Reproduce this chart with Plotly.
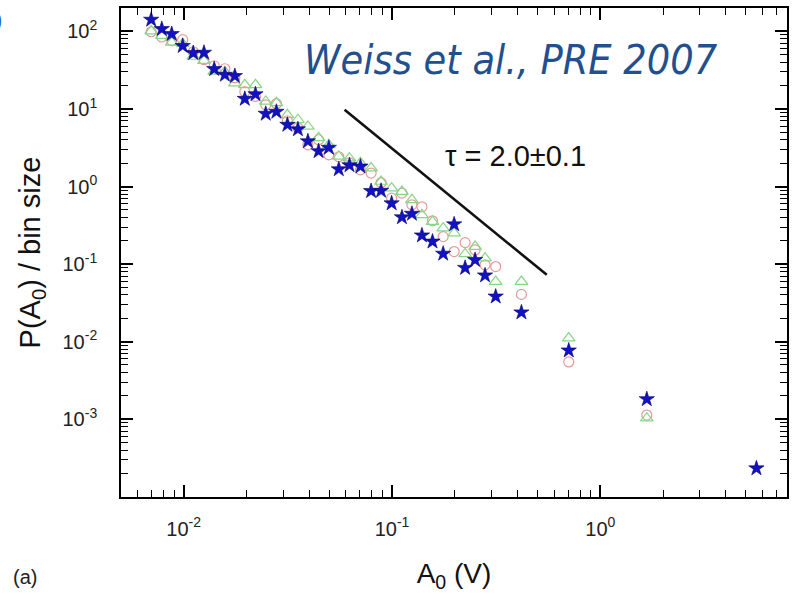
import plotly.graph_objects as go

# ---- data ----
A0 = [0.00698, 0.00785, 0.00876, 0.00989, 0.01111, 0.01251, 0.01401, 0.01576, 0.01760, 0.01965,
      0.02211, 0.02476, 0.02786, 0.03146, 0.03534, 0.03947, 0.04441, 0.04973, 0.05553, 0.06248,
      0.07053, 0.07934, 0.08858, 0.09957, 0.1116, 0.1246, 0.1392, 0.1564, 0.1760, 0.1987,
      0.2243, 0.2504, 0.2796, 0.3145, 0.4179, 0.7053, 1.671, 5.614]

P_star = [141.6, 107.4, 92.5, 64.9, 52.6, 53.1, 32.7, 27.6, 26.6, 13.5,
          15.5, 8.67, 9.20, 6.25, 5.47, 3.83, 2.86, 3.16, 1.67, 1.88,
          1.81, 0.873, 0.881, 0.607, 0.401, 0.445, 0.234, 0.195, 0.136, 0.325,
          0.0893, 0.113, 0.0714, 0.0381, 0.0238, 0.00769, 0.00181, 0.000232]

P_circle = [99, 84.7, 75.9, 78.2, 54.7, 43.2, 36.1, 33.0, 25.3, 16.7,
            14.5, 11.3, 11.7, 7.05, 5.72, 3.45, 4.01, 2.56, 2.42, 2.02,
            1.64, 1.49, 1.12, 0.708, 0.822, 0.581, 0.547, 0.361, 0.226, 0.145,
            0.189, 0.152, 0.0977, 0.0929, 0.0406, 0.00547, 0.00113]

P_triangle = [101, 88.1, 72.1, 69.4, 47.5, 41.9, 30.5, 30.2, 21.6, 20.5,
              20.5, 12.5, 12.0, 8.41, 7.26, 5.95, 4.25, 3.45, 2.44, 2.32,
              2.02, 1.73, 1.16, 0.953, 0.861, 0.673, 0.431, 0.353, 0.290, 0.250,
              0.135, 0.168, 0.119, 0.0594, 0.0594, 0.0111, 0.00103]

fit_x = [0.0592, 0.553]
fit_y = [9.77, 0.0726]

x_major = [0.01, 0.1, 1]
x_labels = ["10<sup>-2</sup>", "10<sup>-1</sup>", "10<sup>0</sup>"]
y_major = [1e-3, 1e-2, 1e-1, 1, 10, 100]
y_labels = ["10<sup>-3</sup>", "10<sup>-2</sup>", "10<sup>-1</sup>",
            "10<sup>0</sup>", "10<sup>1</sup>", "10<sup>2</sup>"]

x_minor = [k * 10.0 ** e for e in range(-3, 1) for k in range(2, 10)]
y_minor = [k * 10.0 ** e for e in range(-5, 3) for k in range(2, 10)]

FONT = "Liberation Sans, Arial, sans-serif"

fig = go.Figure()
fig.add_trace(go.Scatter(x=A0[:len(P_circle)], y=P_circle, mode="markers",
                         marker=dict(symbol="circle-open", size=10, color="#e89a9a",
                                     line=dict(width=1.2, color="#e89a9a"))))
fig.add_trace(go.Scatter(x=A0[:len(P_triangle)], y=P_triangle, mode="markers",
                         marker=dict(symbol="triangle-up-open", size=11, color="#86d686",
                                     line=dict(width=1.2, color="#86d686"))))
fig.add_trace(go.Scatter(x=A0, y=P_star, mode="markers",
                         marker=dict(symbol="star", size=11.5, color="#1212c4",
                                     line=dict(width=0.6, color="#00006a"))))
fig.add_trace(go.Scatter(x=fit_x, y=fit_y, mode="lines",
                         line=dict(color="#111111", width=2.6)))

axis_common = dict(
    type="log", showgrid=False, zeroline=False,
    showline=True, linecolor="black", linewidth=1.6, mirror="allticks",
    ticks="inside", ticklen=12, tickwidth=1.5, tickcolor="black",
    tickfont=dict(family=FONT, size=20, color="#222222"),
)

fig.update_xaxes(**axis_common, range=[-2.301, 0.896],
                 tickvals=x_major, ticktext=x_labels, ticklabelstandoff=13,
                 minor=dict(ticks="inside", ticklen=7, tickwidth=1.2, tickcolor="black",
                            tickvals=x_minor, showgrid=False),
                 title=dict(text="A<sub>0</sub> (V)", standoff=25,
                            font=dict(family=FONT, size=28, color="#111111")))
fig.update_yaxes(**axis_common, range=[-4.004, 2.302],
                 tickvals=y_major, ticktext=y_labels, ticklabelstandoff=18,
                 minor=dict(ticks="inside", ticklen=7, tickwidth=1.2, tickcolor="black",
                            tickvals=y_minor, showgrid=False),
                 title=dict(text="P(A<sub>0</sub>) / bin size", standoff=13,
                            font=dict(family=FONT, size=29, color="#111111")))

fig.add_annotation(xref="paper", yref="paper", x=0.586, y=0.893,
                   text="<i>Weiss et al., PRE 2007</i>", showarrow=False,
                   xanchor="center", yanchor="middle",
                   font=dict(family="DejaVu Sans Condensed, DejaVu Sans", size=41, color="#22508f"))
fig.add_annotation(xref="paper", yref="paper", x=0.483, y=0.698,
                   text="τ = 2.0±0.1", showarrow=False,
                   xanchor="left", yanchor="middle",
                   font=dict(family=FONT, size=29, color="#111111"))
fig.add_annotation(xref="paper", yref="paper", x=-0.165, y=-0.163,
                   text="(a)", showarrow=False, xanchor="left", yanchor="middle",
                   font=dict(family=FONT, size=20, color="#222222"))
fig.add_annotation(xref="paper", yref="paper", x=-0.192, y=0.976,
                   text=")", showarrow=False, xanchor="left", yanchor="middle",
                   font=dict(family=FONT, size=22, color="#2a5cc0"))

fig.update_layout(width=794, height=594, showlegend=False,
                  margin=dict(l=121, r=5, t=8, b=97),
                  plot_bgcolor="white", paper_bgcolor="white")

fig.write_html("out.html")
